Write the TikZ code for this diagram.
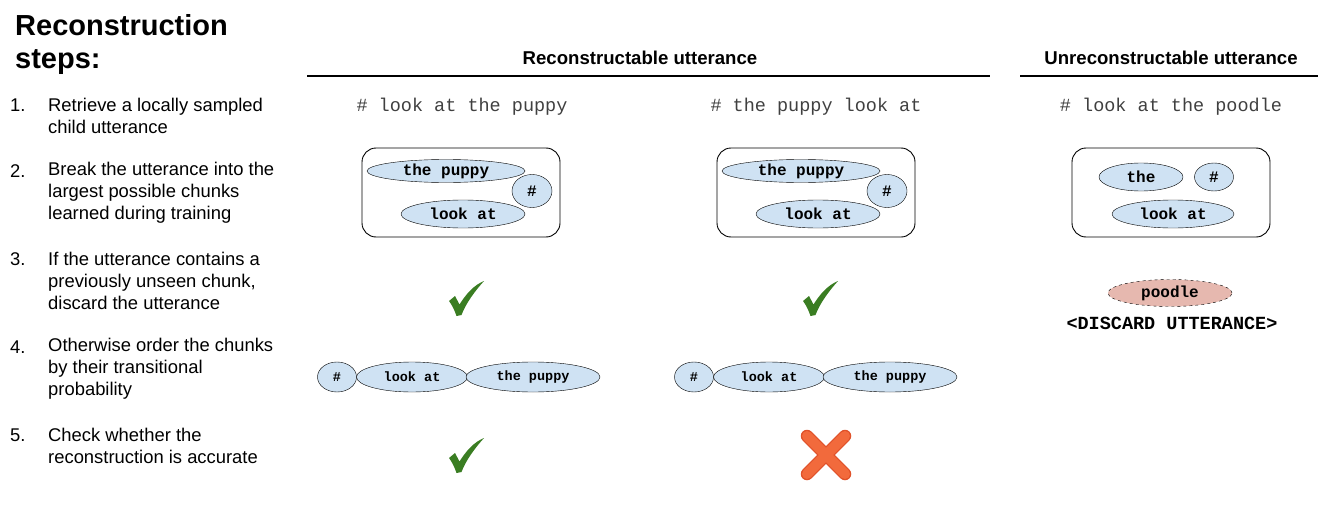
\documentclass[tikz,border=0pt]{standalone}
\usepackage{fontspec}
\setmainfont{Liberation Sans}
\setmonofont{Liberation Mono}
\usetikzlibrary{shapes.geometric}
\definecolor{chunkblue}{HTML}{CFE2F3}
\definecolor{chunkred}{HTML}{E6B8AF}
\definecolor{tickgreen}{HTML}{3A7D22}
\definecolor{crossred}{HTML}{F26A3C}
\definecolor{crossdark}{HTML}{E0522A}

\begin{document}
\begin{tikzpicture}[x=1pt, y=-1pt,
    steptext/.style={anchor=west, align=left, inner sep=0pt, font=\fontsize{18.4}{22}\selectfont},
    stepnum/.style={anchor=west, inner sep=0pt, font=\fontsize{18.4}{22}\selectfont},
    header/.style={inner sep=0pt, font=\fontsize{18.6}{20}\selectfont\bfseries},
    sentence/.style={inner sep=0pt, text=black!75, font=\fontsize{18.5}{20}\selectfont\ttfamily},
    chunk/.style={ellipse, draw, fill=chunkblue, inner sep=0pt, font=\fontsize{16}{16}\selectfont\ttfamily\bfseries},
    smallchunk/.style={chunk, minimum height=30, font=\fontsize{13.5}{14}\selectfont\ttfamily\bfseries},
    chunkbox/.style={draw, line width=0.9pt, rounded corners=14}]

    \useasboundingbox (0,0) rectangle (1327,508);

    % Draw the title and the steps
    \node[anchor=north west, align=left, inner sep=0pt, font=\fontsize{29}{33}\selectfont\bfseries] (title) at (15,14) {Reconstruction\\steps:};

    \node[stepnum] (num1) at (10,105) {1.};
    \node[stepnum] (num2) at (10,171) {2.};
    \node[stepnum] (num3) at (10,259) {3.};
    \node[stepnum] (num4) at (10,347) {4.};
    \node[stepnum] (num5) at (10,435) {5.};

    \node[steptext] (step1) at (48,116) {Retrieve a locally sampled\\child utterance};
    \node[steptext] (step2) at (48,193) {Break the utterance into the\\largest possible chunks\\learned during training};
    \node[steptext] (step3) at (48,281) {If the utterance contains a\\previously unseen chunk,\\discard the utterance};
    \node[steptext] (step4) at (48,369) {Otherwise order the chunks\\by their transitional\\probability};
    \node[steptext] (step5) at (48,446) {Check whether the\\reconstruction is accurate};

    % Draw the headers
    \node[header] (headA) at (640,58) {Reconstructable utterance};
    \node[header] (headB) at (1171,58) {Unreconstructable utterance};
    \draw[line width=2pt] (307,76) -- (990,76);
    \draw[line width=2pt] (1020,76) -- (1318,76);

    % Draw the sampled utterances
    \node[sentence] (sentA) at (462,107) {\# look at the puppy};
    \node[sentence] (sentB) at (816,107) {\# the puppy look at};
    \node[sentence] (sentC) at (1171,107) {\# look at the poodle};

    % Draw the boxes with the chunks
    \draw[chunkbox] (362,148) rectangle (560,237);
    \node[chunk, minimum width=158, minimum height=23] (puppyA) at (446,171) {the puppy};
    \node[chunk, minimum width=40, minimum height=33] (hashA) at (532,191) {\#};
    \node[chunk, minimum width=124, minimum height=28] (lookA) at (463,214) {look at};

    \draw[chunkbox] (362+355,148) rectangle (560+355,237);
    \node[chunk, minimum width=158, minimum height=23] (puppyB) at (446+355,171) {the puppy};
    \node[chunk, minimum width=40, minimum height=33] (hashB) at (532+355,191) {\#};
    \node[chunk, minimum width=124, minimum height=28] (lookB) at (463+355,214) {look at};

    \draw[chunkbox] (1072,148) rectangle (1270,237);
    \node[chunk, minimum width=84, minimum height=28] (theC) at (1141,177) {the};
    \node[chunk, minimum width=39, minimum height=28] (hashC) at (1214,177) {\#};
    \node[chunk, minimum width=122, minimum height=28] (lookC) at (1173,214) {look at};

    % Draw the check marks for step 3
    \fill[tickgreen] (449,301) -- (455,296) -- (459.5,304.5) .. controls (466,294) and (474,285) .. (484,281) .. controls (475,291) and (466,303) .. (461.5,315) -- (456.5,316) .. controls (454.5,310) and (452,305) .. (449,301) -- cycle;
    \fill[tickgreen] (449+354,301) -- (455+354,296) -- (459.5+354,304.5) .. controls (466+354,294) and (474+354,285) .. (484+354,281) .. controls (475+354,291) and (466+354,303) .. (461.5+354,315) -- (456.5+354,316) .. controls (454.5+354,310) and (452+354,305) .. (449+354,301) -- cycle;

    % Draw the discarded chunk
    \node[chunk, dashed, fill=chunkred, minimum width=124, minimum height=27] (poodle) at (1170,293) {poodle};
    \node[sentence, text=black, font=\fontsize{18.5}{20}\selectfont\ttfamily\bfseries] (discard) at (1172,323) {<DISCARD UTTERANCE>};

    % Draw the ordered chunks for step 4
    \node[smallchunk, minimum width=39] (ordhashA) at (337,377) {\#};
    \node[smallchunk, minimum width=111] (ordlookA) at (412,377) {look at};
    \node[smallchunk, minimum width=134] (ordpuppyA) at (533,377) {the puppy};

    \node[smallchunk, minimum width=39] (ordhashB) at (337+357,377) {\#};
    \node[smallchunk, minimum width=111] (ordlookB) at (412+357,377) {look at};
    \node[smallchunk, minimum width=134] (ordpuppyB) at (533+357,377) {the puppy};

    % Draw the result of step 5
    \fill[tickgreen] (449,301+157) -- (455,296+157) -- (459.5,304.5+157) .. controls (466,294+157) and (474,285+157) .. (484,281+157) .. controls (475,291+157) and (466,303+157) .. (461.5,315+157) -- (456.5,316+157) .. controls (454.5,310+157) and (452,305+157) .. (449,301+157) -- cycle;

    \draw[crossdark, line width=12.5pt, line cap=round] (807,436) -- (845,474);
    \draw[crossdark, line width=12.5pt, line cap=round] (845,436) -- (807,474);
    \draw[crossred, line width=10pt, line cap=round] (807,436) -- (845,474);
    \draw[crossred, line width=10pt, line cap=round] (845,436) -- (807,474);

\end{tikzpicture}
\end{document}
